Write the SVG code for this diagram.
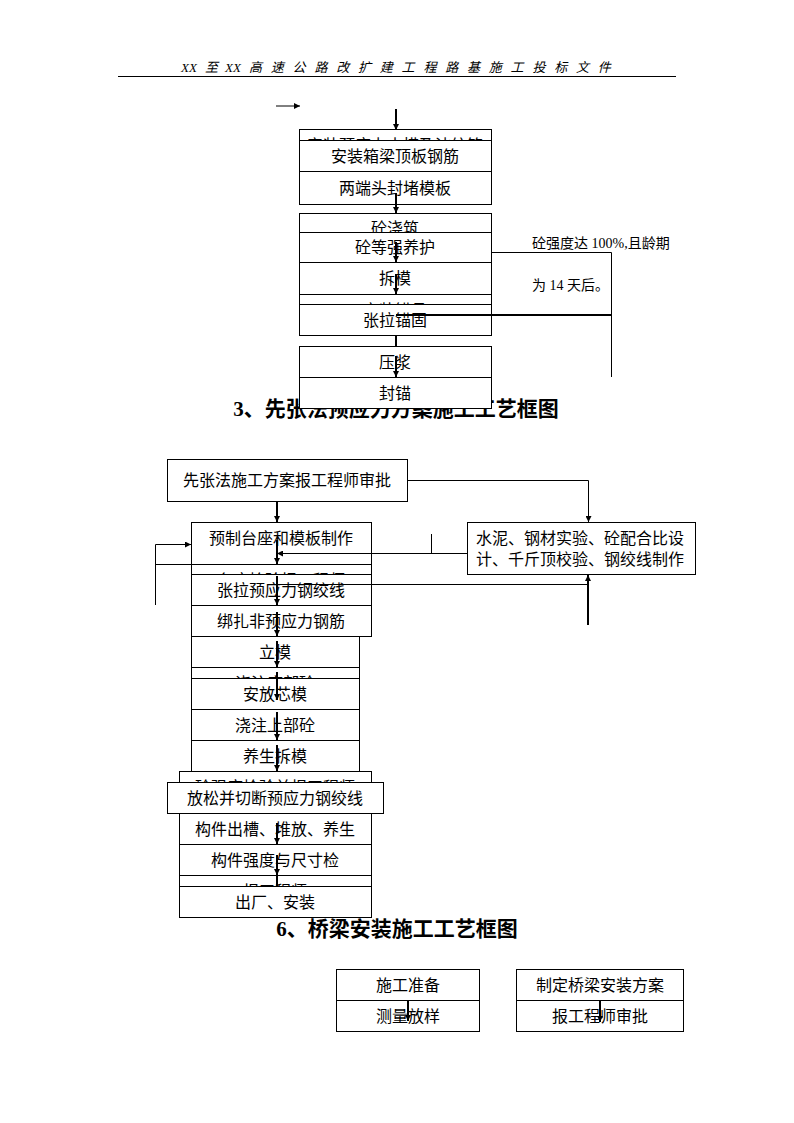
<svg xmlns="http://www.w3.org/2000/svg" width="794" height="1123" viewBox="0 0 794 1123">
<style>
.b{fill:#fff;stroke:#000;stroke-width:1}
.t{font-family:"Noto Sans CJK SC","Liberation Sans",sans-serif;font-size:16px;text-anchor:middle;fill:#000}
.tl{font-family:"Noto Sans CJK SC","Liberation Sans",sans-serif;font-size:16px;fill:#000}
.n{font-family:"Liberation Serif","Noto Sans CJK SC",serif;font-size:14px;fill:#000}
.h{font-family:"Liberation Serif","Noto Sans CJK SC",serif;font-size:21px;font-weight:bold;text-anchor:middle;fill:#000}
.hd{font-family:"Liberation Serif","Noto Sans CJK SC",serif;font-size:13px;font-style:italic;fill:#000}
.c{fill:none;stroke:#000;stroke-width:1}
.a{fill:none;stroke:#000;stroke-width:2}
</style>
<defs>
<marker id="ar" viewBox="0 0 6 6" refX="6" refY="3" markerWidth="6" markerHeight="6" markerUnits="userSpaceOnUse" orient="auto"><path d="M0,0 L6,3 L0,6 z" fill="#000"/></marker>
<clipPath id="cA"><rect x="299" y="129" width="193" height="11.5"/></clipPath>
<clipPath id="cD"><rect x="299" y="213" width="193" height="19.5"/></clipPath>
<clipPath id="cG"><rect x="299" y="294" width="193" height="10.5"/></clipPath>
<clipPath id="cM2"><rect x="191" y="564" width="181" height="10.5"/></clipPath>
<clipPath id="cP4"><rect x="191" y="667" width="169" height="11.5"/></clipPath>
<clipPath id="cP8"><rect x="179" y="771" width="193" height="11.5"/></clipPath>
<clipPath id="cP12"><rect x="179" y="875" width="193" height="11.5"/></clipPath>
</defs>

<g id="header">
<text class="hd" y="72"><tspan x="181">XX</tspan><tspan x="205">至</tspan><tspan x="225">XX</tspan><tspan x="249" letter-spacing="8.8">高速公路改扩建工程路基施工投标文件</tspan></text>
<line x1="118" y1="76.5" x2="676" y2="76.5" stroke="#000" stroke-width="1"/>
</g>

<!-- Top section -->
<g id="n_a"><rect class="b" x="299.5" y="129.5" width="192" height="31"/><text class="t" x="395" y="151" clip-path="url(#cA)">安装预应力内模及波纹管</text></g>
<g id="n_b"><rect class="b" x="299.5" y="140.5" width="192" height="31"/><text class="t" x="395" y="162">安装箱梁顶板钢筋</text></g>
<g id="n_c"><rect class="b" x="299.5" y="171.5" width="192" height="33"/><text class="t" x="395" y="194">两端头封堵模板</text></g>
<g id="n_d"><rect class="b" x="299.5" y="213.5" width="192" height="31"/><text class="t" x="395" y="234" clip-path="url(#cD)">砼浇筑</text></g>
<g id="n_e"><rect class="b" x="299.5" y="232.5" width="192" height="30"/><text class="t" x="395" y="253">砼等强养护</text></g>
<g id="n_f"><rect class="b" x="299.5" y="262.5" width="192" height="32"/><text class="t" x="395" y="284">拆模</text></g>
<g id="n_g"><rect class="b" x="299.5" y="294.5" width="192" height="31"/><text class="t" x="395" y="316" clip-path="url(#cG)">安装锚具</text></g>
<g id="n_h"><rect class="b" x="299.5" y="304.5" width="192" height="31"/><text class="t" x="395" y="326">张拉锚固</text></g>
<g id="n_i"><rect class="b" x="299.5" y="346.5" width="192" height="31"/><text class="t" x="395" y="368">压浆</text></g>
<g id="title3"><text class="h" x="396" y="416">3、先张法预应力方案施工工艺框图</text></g>
<g id="n_j"><rect class="b" x="299.5" y="377.5" width="192" height="31"/><text class="t" x="395" y="399">封锚</text></g>
<g id="note"><text class="n" x="532" y="248">砼强度达 100%,且龄期</text><text class="n" x="532" y="290">为 14 天后。</text></g>

<!-- Section 3 -->
<g id="k"><rect class="b" x="167.5" y="459.5" width="240" height="42"/><text class="t" x="287" y="486">先张法施工方案报工程师审批</text></g>
<g id="l"><rect class="b" x="467.5" y="522.5" width="228" height="52"/><text class="tl" x="476" y="544">水泥、钢材实验、砼配合比设</text><text class="tl" x="476" y="565">计、千斤顶校验、钢绞线制作</text></g>
<g id="m"><rect class="b" x="191.5" y="522.5" width="180" height="42"/><text class="t" x="281" y="544">预制台座和模板制作</text></g>
<g id="m2"><rect class="b" x="191.5" y="564.5" width="180" height="31"/><text class="t" x="281" y="586" clip-path="url(#cM2)">台座检验报工程师</text></g>
<g id="p1"><rect class="b" x="191.5" y="574.5" width="180" height="31"/><text class="t" x="281" y="596">张拉预应力钢绞线</text></g>
<g id="p2"><rect class="b" x="191.5" y="605.5" width="180" height="31"/><text class="t" x="281" y="627">绑扎非预应力钢筋</text></g>
<g id="p3"><rect class="b" x="191.5" y="636.5" width="168" height="31"/><text class="t" x="275" y="658">立模</text></g>
<g id="p4"><rect class="b" x="191.5" y="667.5" width="168" height="31"/><text class="t" x="275" y="689" clip-path="url(#cP4)">浇注底部砼</text></g>
<g id="p5"><rect class="b" x="191.5" y="678.5" width="168" height="31"/><text class="t" x="275" y="700">安放芯模</text></g>
<g id="p6"><rect class="b" x="191.5" y="709.5" width="168" height="31"/><text class="t" x="275" y="731">浇注上部砼</text></g>
<g id="p7"><rect class="b" x="191.5" y="740.5" width="168" height="31"/><text class="t" x="275" y="762">养生拆模</text></g>
<g id="p8"><rect class="b" x="179.5" y="771.5" width="192" height="31"/><text class="t" x="275" y="793" clip-path="url(#cP8)">砼强度检验并报工程师</text></g>
<g id="p9"><rect class="b" x="167.5" y="782.5" width="216" height="31"/><text class="t" x="275" y="804">放松并切断预应力钢绞线</text></g>
<g id="p10"><rect class="b" x="179.5" y="813.5" width="192" height="31"/><text class="t" x="275" y="835">构件出槽、堆放、养生</text></g>
<g id="p11"><rect class="b" x="179.5" y="844.5" width="192" height="31"/><text class="t" x="275" y="866">构件强度与尺寸检</text></g>
<g id="p12"><rect class="b" x="179.5" y="875.5" width="192" height="31"/><text class="t" x="275" y="897" clip-path="url(#cP12)">报工程师</text></g>
<g id="p13"><rect class="b" x="179.5" y="886.5" width="192" height="31"/><text class="t" x="275" y="908">出厂、安装</text></g>

<g id="title6"><text class="h" x="397" y="936">6、桥梁安装施工工艺框图</text></g>

<!-- Section 6 -->
<g id="s1"><rect class="b" x="336.5" y="969.5" width="143" height="31"/><text class="t" x="408" y="991">施工准备</text></g>
<g id="s2"><rect class="b" x="336.5" y="1000.5" width="143" height="31"/><text class="t" x="408" y="1022">测量放样</text></g>
<g id="s3"><rect class="b" x="516.5" y="969.5" width="167" height="31"/><text class="t" x="600" y="991">制定桥梁安装方案</text></g>
<g id="s4"><rect class="b" x="516.5" y="1000.5" width="167" height="31"/><text class="t" x="600" y="1022">报工程师审批</text></g>

<g id="connectors">
<!-- top section -->
<line class="c" x1="276" y1="106" x2="300" y2="106" marker-end="url(#ar)"/>
<line class="a" x1="396" y1="109" x2="396" y2="130" marker-end="url(#ar)"/>
<line class="a" x1="396" y1="193" x2="396" y2="213" marker-end="url(#ar)"/>
<line class="a" x1="396" y1="242" x2="396" y2="262" marker-end="url(#ar)"/>
<line class="a" x1="396" y1="274" x2="396" y2="294" marker-end="url(#ar)"/>
<line class="a" x1="396" y1="335" x2="396" y2="346"/>
<line class="a" x1="396" y1="356" x2="396" y2="377" marker-end="url(#ar)"/>
<polyline class="c" points="492,252.5 611.5,252.5 611.5,377"/>
<line class="a" x1="611" y1="315" x2="396" y2="315"/>
<!-- section 3 -->
<polyline class="c" points="407,480.5 588.5,480.5 588.5,522" marker-end="url(#ar)"/>
<line class="a" x1="277" y1="501" x2="277" y2="522" marker-end="url(#ar)"/>
<line class="c" x1="467" y1="553.5" x2="277" y2="553.5" marker-end="url(#ar)"/>
<line class="c" x1="431.5" y1="534" x2="431.5" y2="553"/>
<line class="a" x1="277" y1="540" x2="277" y2="564" marker-end="url(#ar)"/>
<polyline class="c" points="155.5,605 155.5,544.5 191,544.5" marker-end="url(#ar)"/>
<line class="c" x1="155" y1="564.5" x2="191" y2="564.5"/>
<line class="c" x1="277" y1="584.5" x2="588.5" y2="584.5"/>
<line class="a" x1="588" y1="625" x2="588" y2="575" marker-end="url(#ar)"/>
<line class="a" x1="277" y1="576" x2="277" y2="605" marker-end="url(#ar)"/>
<line class="a" x1="277" y1="612" x2="277" y2="636" marker-end="url(#ar)"/>
<line class="a" x1="277" y1="641" x2="277" y2="667" marker-end="url(#ar)"/>
<line class="a" x1="277" y1="672" x2="277" y2="700" marker-end="url(#ar)"/>
<line class="a" x1="277" y1="712" x2="277" y2="740" marker-end="url(#ar)"/>
<line class="a" x1="277" y1="745" x2="277" y2="771" marker-end="url(#ar)"/>
<line class="a" x1="277" y1="823" x2="277" y2="844" marker-end="url(#ar)"/>
<line class="a" x1="277" y1="855" x2="277" y2="875" marker-end="url(#ar)"/>
<line class="a" x1="277" y1="875" x2="277" y2="887"/>
<!-- section 6 -->
<line class="a" x1="408" y1="1000" x2="408" y2="1021" marker-end="url(#ar)"/>
<line class="a" x1="600" y1="1000" x2="600" y2="1022" marker-end="url(#ar)"/>
</g>
</svg>
